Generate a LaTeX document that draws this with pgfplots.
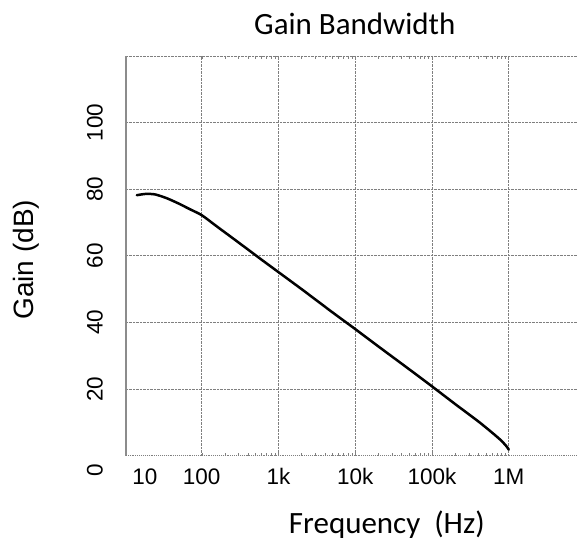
\documentclass[border=0pt]{standalone}
\usepackage{fontspec}
\setmainfont{Liberation Sans}
\newfontfamily\calibri{Carlito}
\usepackage{pgfplots}
\pgfplotsset{compat=1.18}
\definecolor{GridGray}{HTML}{7F7F7F}
\definecolor{AxisGray}{HTML}{8C8C8C}
\begin{document}
\begin{tikzpicture}
\begin{axis}[
  scale only axis,width=451pt,height=400pt,
  xmode=log,xmin=10.3,xmax=7.64e6,ymin=0,ymax=120,
  axis line style={draw=none},
  clip=false,
  xtick={100,1000,10000,100000,1000000},
  xticklabels={100,1k,10k,100k,1M},
  extra x ticks={18.2},extra x tick labels={10},
  extra x tick style={grid=none},
  ytick={20,40,60,80,100,120},
  yticklabels={20,40,60,80,100,},
  minor xtick={},minor ytick={},
  major tick length=0pt,
  grid=major,grid style={draw=GridGray,densely dotted,line width=0.9pt},
  xticklabel style={anchor=center,yshift=-21pt,font=\fontsize{22.5}{24}\selectfont},
  yticklabel style={xshift=-31pt,rotate=90,anchor=center,font=\fontsize{22.5}{24}\selectfont},
]
  \draw[AxisGray,line width=1.4pt] (axis description cs:0,0) -- (axis description cs:0,1);
  \draw[GridGray,densely dotted,line width=0.9pt] (axis description cs:0,0) -- (axis description cs:1,0);
  \addplot[black,line width=2.5pt,smooth,tension=0.4,line cap=round,line join=round] coordinates {
    (14.3,78.2) (19,78.6) (25,78.4) (35,77.3) (50,75.7) (70,74.0) (100,72.2)
    (160,68.7) (250,65.4) (400,61.9) (630,58.5) (1000,55.1) (2000,50.0)
    (5000,43.1) (10000,38.0) (20000,32.8) (50000,26.0) (100000,20.8)
    (200000,15.5) (400000,10.3) (600000,7.0) (800000,4.5) (950000,2.6) (1000000,1.8)
  };
  \node[rotate=90,font=\fontsize{22.5}{24}\selectfont] at ([xshift=-31pt]axis cs:10.3,-4.5) {0};
  \node[font=\calibri\fontsize{31}{34}\selectfont] at (axis description cs:0.508,1.08) {Gain Bandwidth};
  \node[font=\calibri\fontsize{31}{34}\selectfont] at (axis description cs:0.579,-0.1725) {Frequency\ \ (Hz)};
  \node[rotate=90,font=\fontsize{28}{30}\selectfont] at (axis description cs:-0.2217,0.49) {Gain (dB)};
\end{axis}
\path[use as bounding box] (-126pt,-87pt) rectangle (451pt,456pt);
\end{tikzpicture}
\end{document}
